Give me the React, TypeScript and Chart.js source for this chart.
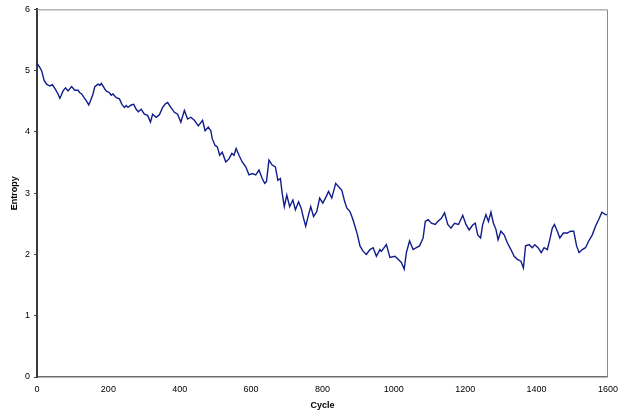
import React, { useEffect, useRef } from "react";
import { Chart, registerables } from "chart.js";

Chart.register(...registerables);

const cycles: number[] = [
  0, 7, 13, 20, 27, 36, 43, 50, 59, 64, 68, 73, 80, 87, 97, 106, 115, 120, 125, 132,
  138, 145, 150, 157, 162, 171, 176, 180, 185, 190, 194, 203, 208, 213, 222, 231, 238, 245, 250, 255,
  264, 271, 278, 284, 292, 301, 310, 318, 324, 334, 343, 352, 360, 366, 375, 385, 394, 403, 413, 422,
  431, 441, 452, 464, 471, 480, 487, 491, 499, 505, 512, 519, 529, 538, 546, 552, 558, 566, 575, 585,
  594, 603, 613, 622, 631, 638, 643, 650, 659, 668, 675, 682, 687, 693, 700, 708, 717, 724, 733, 740,
  747, 753, 761, 767, 775, 784, 792, 801, 810, 817, 826, 837, 849, 854, 861, 868, 877, 884, 891, 898,
  905, 914, 923, 933, 942, 951, 961, 965, 979, 989, 1003, 1012, 1021, 1029, 1035, 1044, 1054, 1063, 1072, 1082,
  1088, 1096, 1105, 1116, 1123, 1133, 1142, 1151, 1160, 1170, 1181, 1193, 1202, 1211, 1221, 1228, 1235, 1243, 1249, 1258,
  1265, 1272, 1279, 1286, 1292, 1300, 1309, 1318, 1328, 1337, 1346, 1356, 1363, 1369, 1379, 1388, 1395, 1404, 1413, 1421,
  1430, 1438, 1444, 1450, 1458, 1465, 1475, 1486, 1495, 1504, 1512, 1519, 1528, 1537, 1546, 1556, 1565, 1574, 1583, 1593,
  1600,
];

const entropy: number[] = [
  5.12, 5.06, 5.0, 4.84, 4.78, 4.75, 4.77, 4.71, 4.62, 4.55, 4.6, 4.67, 4.72, 4.67, 4.74, 4.68, 4.68, 4.64, 4.62, 4.56,
  4.51, 4.44, 4.51, 4.62, 4.74, 4.78, 4.76, 4.79, 4.75, 4.7, 4.67, 4.64, 4.6, 4.62, 4.56, 4.54, 4.45, 4.4, 4.43, 4.4,
  4.44, 4.45, 4.37, 4.33, 4.37, 4.29, 4.27, 4.16, 4.29, 4.24, 4.28, 4.4, 4.46, 4.48, 4.4, 4.32, 4.29, 4.16, 4.35, 4.21,
  4.24, 4.19, 4.1, 4.19, 4.02, 4.08, 4.02, 3.89, 3.78, 3.76, 3.62, 3.67, 3.51, 3.56, 3.65, 3.62, 3.73, 3.62, 3.51, 3.43,
  3.3, 3.32, 3.3, 3.38, 3.24, 3.16, 3.19, 3.54, 3.46, 3.43, 3.21, 3.24, 3.0, 2.78, 2.97, 2.78, 2.89, 2.73, 2.86, 2.76,
  2.59, 2.46, 2.65, 2.78, 2.62, 2.7, 2.92, 2.84, 2.94, 3.03, 2.92, 3.16, 3.08, 3.05, 2.89, 2.76, 2.7, 2.59, 2.46, 2.32,
  2.14, 2.05, 2.0, 2.08, 2.11, 1.97, 2.08, 2.05, 2.16, 1.95, 1.97, 1.92, 1.87, 1.76, 2.03, 2.22, 2.08, 2.11, 2.14, 2.27,
  2.54, 2.57, 2.51, 2.49, 2.54, 2.59, 2.68, 2.49, 2.43, 2.51, 2.49, 2.64, 2.49, 2.4, 2.48, 2.51, 2.32, 2.27, 2.49, 2.65,
  2.54, 2.69, 2.51, 2.41, 2.24, 2.38, 2.32, 2.19, 2.08, 1.97, 1.92, 1.89, 1.78, 2.14, 2.16, 2.11, 2.16, 2.11, 2.03, 2.11,
  2.08, 2.27, 2.43, 2.49, 2.38, 2.27, 2.35, 2.35, 2.38, 2.38, 2.14, 2.03, 2.08, 2.11, 2.22, 2.32, 2.46, 2.57, 2.69, 2.65,
  2.65,
];

const xTitle = "Cycle";
const yTitle = "Entropy";

const FONT = "'Liberation Sans', Arial, sans-serif";

const frame = {
  id: "frame",
  afterDraw(chart: any) {
    const { ctx, chartArea: a } = chart;
    ctx.save();
    ctx.strokeStyle = "#8a8a8a";
    ctx.lineWidth = 1;
    ctx.beginPath();
    ctx.moveTo(a.left, a.top + 0.5);
    ctx.lineTo(a.right - 0.5, a.top + 0.5);
    ctx.lineTo(a.right - 0.5, a.bottom);
    ctx.stroke();
    ctx.restore();
  },
};

export default function App() {
  const ref = useRef<HTMLCanvasElement | null>(null);
  useEffect(() => {
    if (!ref.current) return;
    const chart = new Chart(ref.current, {
      type: "line",
      data: {
        datasets: [
          {
            data: cycles.map((c, i) => ({ x: c, y: entropy[i] })),
            borderColor: "#101c8c",
            borderWidth: 1.4,
            pointRadius: 0,
            tension: 0,
            fill: false,
          },
        ],
      },
      options: {
        animation: false,
        responsive: false,
        devicePixelRatio: 1,
        layout: { padding: { top: 6, right: 14, left: 0, bottom: 0 } },
        plugins: { legend: { display: false }, tooltip: { enabled: false } },
        scales: {
          x: {
            type: "linear",
            min: 0,
            max: 1600,
            grid: { display: false, drawTicks: false },
            border: { display: true, color: "#6e6e6e", width: 1.5 },
            ticks: {
              stepSize: 200,
              padding: 7,
              maxRotation: 0,
              autoSkip: false,
              color: "#000",
              font: { family: FONT, size: 9 },
              callback: (v: any) => String(v),
            },
            title: {
              display: true,
              text: xTitle,
              color: "#000",
              font: { family: FONT, size: 9, weight: "bold" },
              padding: { top: 0, bottom: 4.5 },
            },
            afterFit(scale: any) {
              scale.height = 38;
            },
          },
          y: {
            min: 0,
            max: 6,
            grid: {
              display: true,
              drawOnChartArea: false,
              drawTicks: true,
              tickLength: 3,
              color: "#444",
            },
            border: { display: true, color: "#3a3a3a", width: 2 },
            ticks: {
              stepSize: 1,
              padding: 4,
              color: "#000",
              font: { family: FONT, size: 9 },
              callback: (v: any) => String(v),
            },
            title: {
              display: true,
              text: yTitle,
              color: "#000",
              font: { family: FONT, size: 9, weight: "bold" },
              padding: { top: 9, bottom: 0 },
            },
            afterFit(scale: any) {
              scale.width = 37;
            },
          },
        },
      },
      plugins: [frame],
    });
    return () => chart.destroy();
  }, []);
  return (
    <div style={{ position: "absolute", left: 0, top: 0, width: 625, height: 415, background: "#fff" }}>
      <canvas ref={ref} width={625} height={415} style={{ width: 625, height: 415 }} />
    </div>
  );
}
